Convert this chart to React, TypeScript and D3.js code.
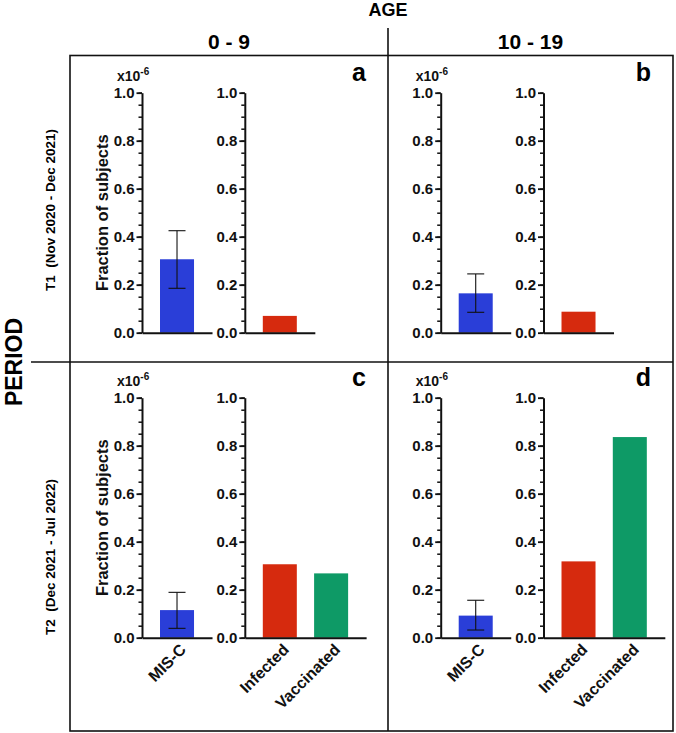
import { useRef, useEffect } from 'react';
import * as d3 from 'd3';

// values, in units of 1e-6; panel order a, b, c, d
const ageGroups = ['0 - 9', '10 - 19'];
const periods = ['T1  (Nov 2020 - Dec 2021)', 'T2  (Dec 2021 - Jul 2022)'];
const panelLetters = ['a', 'b', 'c', 'd'];
const miscValues = [0.306, 0.164, 0.115, 0.092];
const miscLow = [0.185, 0.085, 0.039, 0.032];
const miscHigh = [0.425, 0.245, 0.189, 0.156];
const infectedValues = [0.07, 0.0875, 0.306, 0.318];
const vaccinatedValues = [null, null, 0.268, 0.836];
const yTicks = [0, 0.2, 0.4, 0.6, 0.8, 1.0];
const yMinorTicks = d3.range(0, 21).map((i) => i * 0.05);

const colors: Record<string, string> = {
  'MIS-C': '#2a3ed8',
  Infected: '#d62a0e',
  Vaccinated: '#0e9a66',
};

const FONT = "'Liberation Sans', Arial, sans-serif";

export default function App() {
  const svgRef = useRef<SVGSVGElement>(null);

  useEffect(() => {
    if (!svgRef.current) return;
    const svg = d3.select(svgRef.current);
    svg.selectAll('*').remove();

    const boxL = 70, boxR = 673, boxT = 55.5, boxB = 731, midX = 388, midY = 362;

    // frame
    const frame = svg.append('g').attr('stroke', '#111').attr('stroke-width', 1.6).attr('fill', 'none');
    frame.append('rect').attr('x', boxL).attr('y', boxT).attr('width', boxR - boxL).attr('height', boxB - boxT);
    frame.append('line').attr('x1', midX).attr('x2', midX).attr('y1', 28).attr('y2', boxB);
    frame.append('line').attr('x1', 31).attr('x2', boxR).attr('y1', midY).attr('y2', midY);

    // headers
    svg.append('text').attr('x', midX).attr('y', 16).attr('text-anchor', 'middle')
      .attr('font-size', 18).attr('font-weight', 'bold').attr('font-family', FONT).text('AGE');
    const colCenters = [(boxL + midX) / 2, (midX + boxR) / 2];
    ageGroups.forEach((g, i) => {
      svg.append('text').attr('x', colCenters[i]).attr('y', 49).attr('text-anchor', 'middle')
        .attr('font-size', 21).attr('font-weight', 'bold').attr('font-family', FONT).text(g);
    });
    svg.append('text').attr('transform', `translate(22,${midY}) rotate(-90)`).attr('text-anchor', 'middle')
      .attr('font-size', 23).attr('font-weight', 'bold').attr('font-family', FONT).text('PERIOD');
    const rowCenters = [210, 557];
    periods.forEach((p, i) => {
      svg.append('text').attr('transform', `translate(55,${rowCenters[i]}) rotate(-90)`).attr('text-anchor', 'middle')
        .attr('font-size', 13.5).attr('font-weight', 'bold').attr('font-family', FONT)
        .style('white-space', 'pre').text(p);
    });

    const colAxisX = [142, 440.7];
    const axisGap = 102.8;
    const rowTop = [92.7, 397.7];
    const rowBase = [332.7, 637.7];
    const colRight = [midX, boxR];
    const step = 51.3, padIn = 0.337, padOut = 0.351;
    const groupWidth = (n: number) => step * (n - padIn + 2 * padOut);

    panelLetters.forEach((letter, p) => {
      const row = Math.floor(p / 2);
      const col = p % 2;
      const y = d3.scaleLinear().domain([0, 1]).range([rowBase[row], rowTop[row]]);
      const g = svg.append('g').attr('font-family', FONT);

      g.append('text').attr('x', colRight[col] - 22).attr('y', rowTop[row] - 12).attr('text-anchor', 'end')
        .attr('font-size', 25).attr('font-weight', 'bold').text(letter);

      const groups: { x0: number; cats: string[]; vals: (number | null)[] }[] = [
        { x0: colAxisX[col], cats: ['MIS-C'], vals: [miscValues[p]] },
        {
          x0: colAxisX[col] + axisGap,
          cats: row === 0 ? ['Infected'] : ['Infected', 'Vaccinated'],
          vals: row === 0 ? [infectedValues[p]] : [infectedValues[p], vaccinatedValues[p]],
        },
      ];

      groups.forEach((grp, gi) => {
        const x = d3.scaleBand().domain(grp.cats)
          .range([grp.x0, grp.x0 + groupWidth(grp.cats.length)])
          .paddingInner(padIn).paddingOuter(padOut);

        g.selectAll(null).data(grp.cats).join('rect')
          .attr('x', (c) => x(c) ?? 0)
          .attr('width', x.bandwidth())
          .attr('y', (_, i) => y(grp.vals[i] ?? 0))
          .attr('height', (_, i) => y(0) - y(grp.vals[i] ?? 0))
          .attr('fill', (c) => colors[c]);

        if (gi === 0) {
          const cx = (x('MIS-C') ?? 0) + x.bandwidth() / 2;
          const eb = g.append('g').attr('stroke', '#111').attr('stroke-width', 1.1);
          eb.append('line').attr('x1', cx).attr('x2', cx).attr('y1', y(miscLow[p])).attr('y2', y(miscHigh[p]));
          [miscLow[p], miscHigh[p]].forEach((v) => {
            eb.append('line').attr('x1', cx - 8.5).attr('x2', cx + 8.5).attr('y1', y(v)).attr('y2', y(v));
          });
        }

        // minor ticks
        g.append('g').attr('transform', `translate(${grp.x0},0)`)
          .call(d3.axisLeft(y).tickValues(yMinorTicks).tickSize(3.5).tickFormat(() => ''))
          .call((s) => s.select('.domain').remove())
          .call((s) => s.selectAll('line').attr('stroke', '#111').attr('stroke-width', 1.5));
        // major ticks
        g.append('g').attr('transform', `translate(${grp.x0},0)`)
          .call(d3.axisLeft(y).tickValues(yTicks).tickSize(5.5).tickSizeOuter(0).tickPadding(2).tickFormat(d3.format('.1f')))
          .call((s) => s.select('.domain').attr('stroke', '#111').attr('stroke-width', 2))
          .call((s) => s.selectAll('line').attr('stroke', '#111').attr('stroke-width', 1.8))
          .call((s) => s.selectAll('text').attr('font-size', 15).attr('font-weight', 'bold')
            .attr('font-family', FONT).attr('fill', '#111'));
        // x axis
        g.append('g').attr('transform', `translate(0,${y(0)})`)
          .call(d3.axisBottom(x).tickSize(0).tickSizeOuter(0).tickFormat(() => ''))
          .call((s) => s.select('.domain').attr('stroke', '#111').attr('stroke-width', 2));

        if (row === 1) {
          g.selectAll(null).data(grp.cats).join('text')
            .attr('transform', (c) => `translate(${(x(c) ?? 0) + x.bandwidth() / 2 + 10},${y(0) + 13}) rotate(-45)`)
            .attr('text-anchor', 'end').attr('font-size', 16).attr('font-weight', 'bold').attr('fill', '#111')
            .text((c) => c);
        }
      });

      // scale multiplier, sits just above the 1.0 label
      const mult = g.append('text').attr('x', colAxisX[col] - 25).attr('y', rowTop[row] - 12)
        .attr('font-size', 14).attr('font-weight', 'bold').attr('fill', '#111');
      mult.append('tspan').text('x10');
      mult.append('tspan').attr('dy', -6).attr('font-size', 10).text('-6');

      if (col === 0) {
        g.append('text').attr('transform', `translate(108,${(rowTop[row] + rowBase[row]) / 2}) rotate(-90)`)
          .attr('text-anchor', 'middle').attr('font-size', 16.5).attr('font-weight', 'bold').attr('fill', '#111')
          .text('Fraction of subjects');
      }
    });
  }, []);

  return (
    <svg ref={svgRef} width={676} height={733}
      style={{ position: 'absolute', left: 0, top: 0, background: '#fff' }} />
  );
}
